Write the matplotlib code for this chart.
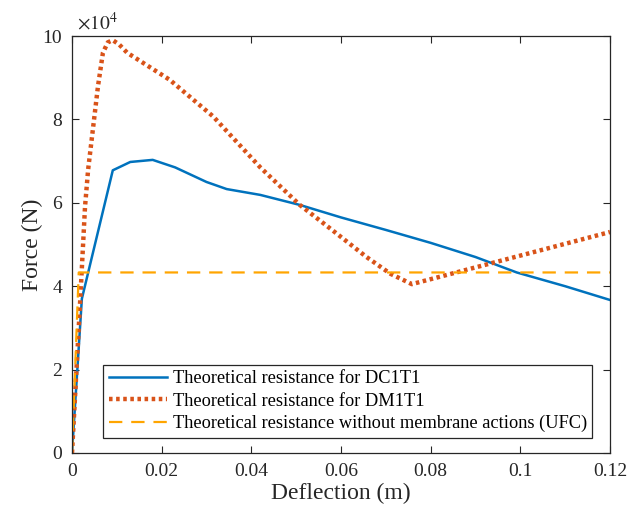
import matplotlib
matplotlib.use('Agg')
import matplotlib.pyplot as plt

# Data (deflection in m, force in N)
dc_x = [0, 0.0022, 0.0091, 0.0130, 0.0180, 0.0230, 0.0300, 0.0345, 0.0420, 0.0508,
        0.0600, 0.0700, 0.0800, 0.0900, 0.0992, 0.1100, 0.1200]
dc_y = [0, 3.70e4, 6.78e4, 6.98e4, 7.03e4, 6.85e4, 6.50e4, 6.33e4, 6.19e4, 5.95e4,
        5.65e4, 5.35e4, 5.04e4, 4.70e4, 4.33e4, 4.00e4, 3.67e4]

dm_x = [0, 0.0010, 0.0018, 0.0029, 0.0036, 0.0047, 0.0058, 0.0069, 0.0080, 0.0091,
        0.0105, 0.0123, 0.0218, 0.0315, 0.0420, 0.0508, 0.0580, 0.0657, 0.0710, 0.0758, 0.1200]
dm_y = [0, 2.0e4, 3.6e4, 5.9e4, 6.8e4, 7.8e4, 8.8e4, 9.6e4, 9.85e4, 9.9e4,
        9.8e4, 9.6e4, 8.95e4, 8.07e4, 6.85e4, 5.95e4, 5.35e4, 4.70e4, 4.30e4, 4.05e4, 5.30e4]

ufc_x = [0, 0.0015, 0.12]
ufc_y = [0, 4.33e4, 4.33e4]

labels = ['Theoretical resistance for DC1T1',
          'Theoretical resistance for DM1T1',
          'Theoretical resistance without membrane actions (UFC)']

plt.rcParams['font.family'] = ['Liberation Serif', 'DejaVu Serif']
plt.rcParams['mathtext.fontset'] = 'stix'

fig = plt.figure(figsize=(6.4, 5.15), dpi=100)
ax = fig.add_axes([0.1125, 0.1204, 0.8406, 0.8096])

ax.plot(dc_x, dc_y, color='#0072BD', lw=1.8, label=labels[0])
ax.plot(dm_x, dm_y, color='#D95319', lw=3.2, linestyle=(0, (0.8, 0.8)), label=labels[1])
ax.plot(ufc_x, ufc_y, color='#FFA500', lw=1.6, linestyle=(0, (6, 4)), label=labels[2])

ax.set_xlim(0, 0.12)
ax.set_ylim(0, 1e5)
ax.set_xticks([0, 0.02, 0.04, 0.06, 0.08, 0.1, 0.12])
ax.set_xticklabels(['0', '0.02', '0.04', '0.06', '0.08', '0.1', '0.12'])
ax.set_yticks([0, 2e4, 4e4, 6e4, 8e4, 1e5])
ax.set_yticklabels(['0', '2', '4', '6', '8', '10'])
ax.tick_params(direction='in', top=True, right=True, labelsize=14, length=5,
               color='#262626', labelcolor='#262626', pad=7)
for s in ax.spines.values():
    s.set_color('#262626')
    s.set_linewidth(0.9)

ax.text(0.01, 1.005, r'$\times10^{4}$', transform=ax.transAxes, fontsize=14,
        color='#262626', ha='left', va='bottom')

ax.set_xlabel('Deflection (m)', fontsize=17, color='#262626', labelpad=2)
ax.set_ylabel('Force (N)', fontsize=17, color='#262626', labelpad=0)

leg = ax.legend(loc='lower left', bbox_to_anchor=(0.058, 0.036), fontsize=13.2,
                fancybox=False, framealpha=1, edgecolor='#262626',
                handlelength=3.2, handletextpad=0.3, borderpad=0.3,
                labelspacing=0.3, borderaxespad=0)
leg.get_frame().set_linewidth(0.9)

fig.savefig('out.png', dpi=100)
